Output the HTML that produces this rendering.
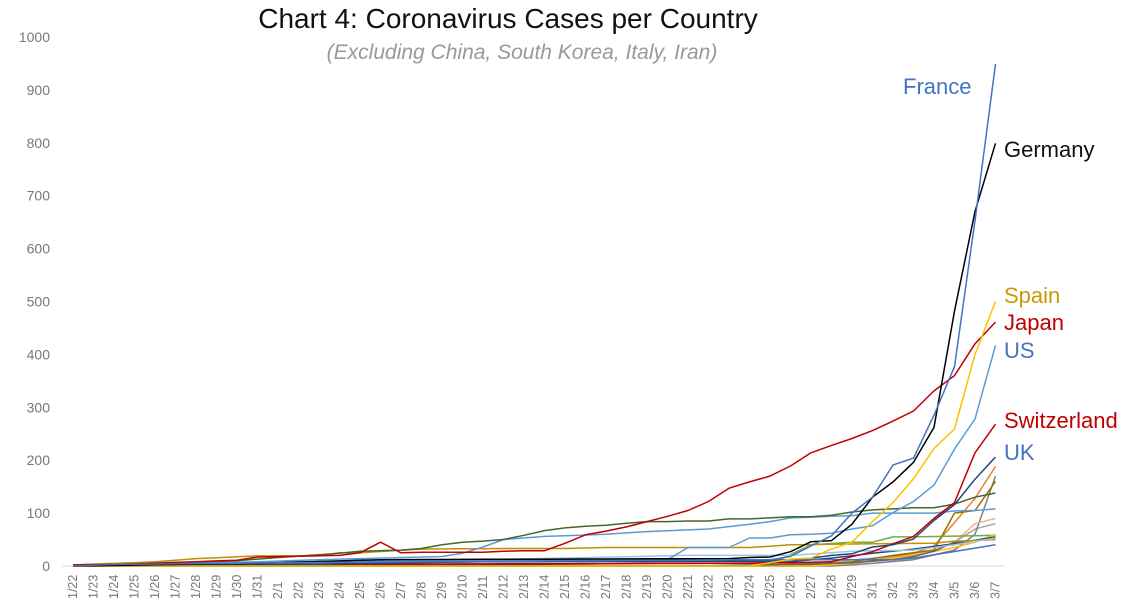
<!DOCTYPE html>
<html><head><meta charset="utf-8"><style>
body{margin:0;background:#fff;width:1132px;height:610px;overflow:hidden;font-family:"Liberation Sans",sans-serif}
</style></head><body>
<svg id="c" width="1132" height="610" xmlns="http://www.w3.org/2000/svg" font-family="Liberation Sans, sans-serif">
<text x="508" y="28" font-size="28" text-anchor="middle" fill="#111">Chart 4: Coronavirus Cases per Country</text>
<text x="522" y="59" font-size="21" font-style="italic" text-anchor="middle" fill="#999">(Excluding China, South Korea, Italy, Iran)</text>
<line x1="62" y1="566" x2="1005" y2="566" stroke="#d9d9d9" stroke-width="1"/>
<g id="yt" font-size="14" fill="#777" text-anchor="end"></g>
<g id="xt" font-size="12.5" fill="#777"></g>
<g id="ln" fill="none" stroke-width="1.5" stroke-linejoin="round"></g>
<g font-size="22">
<text x="903" y="94" fill="#4472c4">France</text>
<text x="1004" y="157" fill="#111">Germany</text>
<text x="1004" y="303" fill="#c99a06">Spain</text>
<text x="1004" y="330" fill="#c00000">Japan</text>
<text x="1004" y="358" fill="#4472c4">US</text>
<text x="1004" y="428" fill="#c00000">Switzerland</text>
<text x="1004" y="460" fill="#4472c4">UK</text>
</g>
</svg>
<script>
var X=function(i){return 73+20.5*i},Y=function(v){return 566-0.529*v};
var ns="http://www.w3.org/2000/svg";
var yt=document.getElementById('yt');
for(var v=0;v<=1000;v+=100){var t=document.createElementNS(ns,'text');t.setAttribute('x',50);t.setAttribute('y',Y(v)+5);t.textContent=v;yt.appendChild(t);}
var dates=[];for(var d=22;d<=31;d++)dates.push('1/'+d);for(d=1;d<=29;d++)dates.push('2/'+d);for(d=1;d<=7;d++)dates.push('3/'+d);
var xt=document.getElementById('xt');
dates.forEach(function(s,i){var t=document.createElementNS(ns,'text');var x=X(i)+4,y=599;t.setAttribute('transform','translate('+x+','+y+') rotate(-90)');t.textContent=s;xt.appendChild(t);});
function F(pts){
 var a=[];for(var i=0;i<46;i++){var k=0;while(k<pts.length-1&&pts[k+1][0]<=i)k++;var p=pts[k],q=pts[Math.min(k+1,pts.length-1)];var v=(q[0]==p[0])?p[1]:p[1]+(q[1]-p[1])*(i-p[0])/(q[0]-p[0]);a.push(v);}return a;}
var S=[
['#a5a5a5',F([[0,0],[34,0],[36,5],[40,18],[42,30],[43,45],[44,70],[45,80]])],
['#7f7f7f',F([[0,0],[37,0],[39,5],[41,12],[43,30],[44,60],[45,170]])],
['#f4b183',F([[0,0],[34,0],[38,5],[40,15],[42,30],[43,45],[44,80],[45,90]])],
['#ed7d31',F([[0,0],[35,0],[37,2],[39,10],[41,24],[42,38],[43,82],[44,128],[45,188]])],
['#997300',F([[0,0],[35,0],[38,8],[40,20],[42,30],[43,100],[44,105],[45,160]])],
['#70ad47',F([[0,0],[32,0],[34,3],[36,40],[38,45],[39,45],[40,55],[41,55],[45,58]])],
['#ffc000',F([[0,0],[36,0],[38,5],[41,20],[43,35],[44,45],[45,60]])],
['#264478',F([[0,0],[2,0],[10,2],[20,2],[28,5],[33,5],[35,8],[37,15],[39,24],[41,32],[43,42],[45,55]])],
['#636363',F([[0,0],[30,0],[35,3],[38,6],[40,12],[41,18],[42,28],[43,45],[44,48],[45,52]])],
['#bf9000',F([[0,2],[2,5],[4,8],[6,14],[9,19],[12,19],[13,25],[14,25],[17,32],[21,33],[24,33],[25,34],[26,35],[33,35],[35,40],[37,41],[39,42],[42,43],[43,47],[44,48],[45,50]])],
['#4472c4',F([[0,0],[8,0],[9,8],[16,8],[17,12],[40,12],[41,15],[45,40]])],
['#9dc3e6',F([[0,0],[9,3],[30,20],[35,20],[38,28],[41,30],[43,40],[45,53]])],
['#5b9bd5',F([[0,0],[9,8],[13,13],[18,18],[19,24],[20,36],[21,50],[23,56],[26,60],[28,65],[31,70],[33,79],[34,84],[35,91],[36,92],[37,94],[38,95],[39,100],[42,100],[43,104],[44,105],[45,108]])],
['#43682b',F([[0,0],[1,1],[2,3],[5,5],[6,7],[8,10],[9,13],[10,16],[13,24],[14,28],[16,30],[17,33],[18,40],[19,45],[20,47],[21,50],[22,58],[23,67],[24,72],[25,75],[26,77],[27,81],[28,84],[29,84],[30,85],[31,85],[32,89],[33,89],[34,91],[35,93],[36,93],[37,96],[38,102],[39,106],[40,108],[41,110],[42,110],[43,117],[44,130],[45,138]])],
['#c00000',F([[0,1],[9,3],[30,5],[35,6],[37,8],[39,27],[40,42],[41,56],[42,90],[43,120],[44,214],[45,268]])],
['#264478',F([[0,0],[9,2],[20,8],[34,9],[36,15],[37,20],[38,23],[39,36],[40,40],[41,51],[42,86],[43,116],[44,164],[45,206]])],
['#5b9bd5',F([[0,1],[10,8],[29,12],[30,35],[32,35],[33,53],[34,53],[35,59],[36,60],[37,62],[38,70],[39,76],[40,101],[41,122],[42,153],[43,221],[44,278],[45,417]])],
['#c00000',F([[0,2],[3,4],[8,11],[9,17],[13,20],[14,25],[15,45],[16,25],[17,26],[18,26],[19,26],[20,26],[21,28],[22,29],[23,29],[24,43],[25,59],[26,66],[27,74],[28,84],[29,94],[30,105],[31,122],[32,147],[33,159],[34,170],[35,189],[36,214],[37,228],[38,241],[39,256],[40,274],[41,293],[42,331],[43,360],[44,420],[45,461]])],
['#ffc000',F([[0,0],[33,0],[34,6],[35,13],[36,15],[37,32],[38,45],[39,84],[40,120],[41,165],[42,222],[43,259],[44,400],[45,500]])],
['#000000',F([[0,0],[9,5],[15,12],[32,14],[33,16],[34,17],[35,27],[36,46],[37,48],[38,79],[39,130],[40,159],[41,196],[42,262],[43,482],[44,670],[45,799]])],
['#4472c4',F([[0,0],[2,3],[10,6],[33,12],[34,12],[35,18],[36,38],[37,57],[38,100],[39,130],[40,191],[41,204],[42,285],[43,377],[44,653],[45,949]])]
];
var g=document.getElementById('ln');
S.forEach(function(s){var p=document.createElementNS(ns,'polyline');p.setAttribute('points',s[1].map(function(v,i){return X(i).toFixed(1)+','+Y(v).toFixed(1)}).join(' '));p.setAttribute('stroke',s[0]);g.appendChild(p);});
</script>
</body></html>
